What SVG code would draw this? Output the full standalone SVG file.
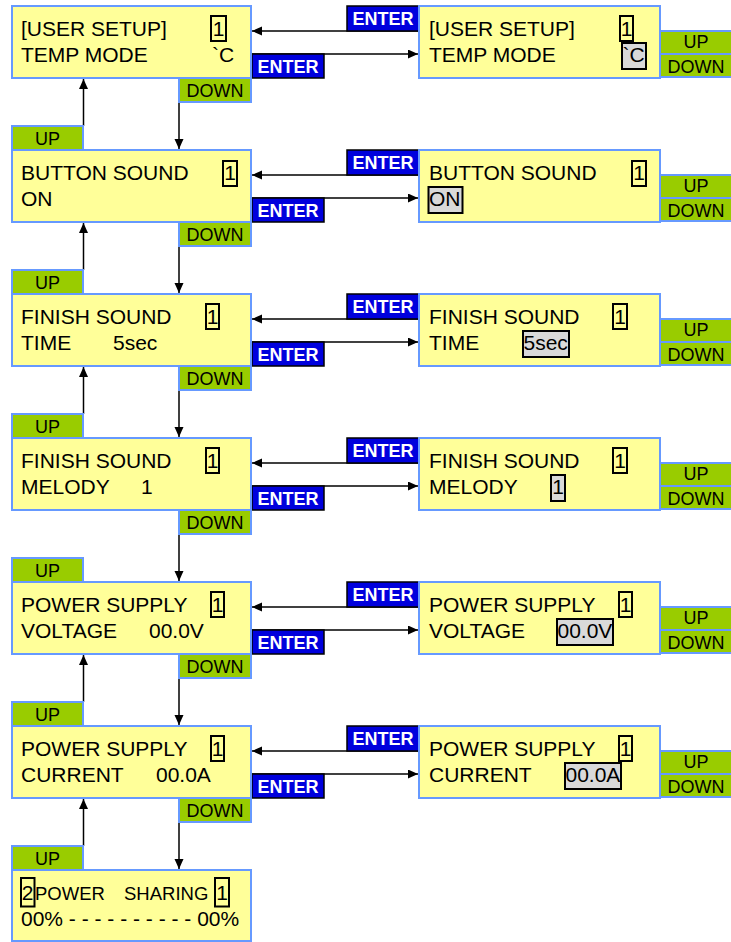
<svg xmlns="http://www.w3.org/2000/svg" width="731" height="942" viewBox="0 0 731 942">
<defs>
<style>
.box{fill:#ffff99;stroke:#6699ff;stroke-width:2}
.tab{fill:#99cc00;stroke:#6699ff;stroke-width:2}
.ent{fill:#0000dd;stroke:#000;stroke-width:1.5}
.t{font-family:"Liberation Sans",Arial,sans-serif;font-size:21px;fill:#000}
.s{font-family:"Liberation Sans",Arial,sans-serif;font-size:18.5px;fill:#000}
.m{text-anchor:middle}
.tt{font-family:"Liberation Sans",Arial,sans-serif;font-size:18px;fill:#000;text-anchor:middle}
.et{font-family:"Liberation Sans",Arial,sans-serif;font-size:18px;font-weight:bold;fill:#fff;text-anchor:middle}
.nb{fill:none;stroke:#000;stroke-width:2}
.hl{fill:#d9d9d9;stroke:#000;stroke-width:2}
.c{stroke:#000;stroke-width:1.5;fill:none;marker-end:url(#ah)}
</style>
<marker id="ah" markerUnits="userSpaceOnUse" markerWidth="11" markerHeight="10" refX="10" refY="4.5" orient="auto">
<path d="M0,0 L10,4.5 L0,9 z" fill="#000"/>
</marker>
</defs>
<rect width="731" height="942" fill="#fff"/>

<!-- connectors -->
<g id="connectors">
<line class="c" x1="419" y1="31" x2="252" y2="31"/>
<line class="c" x1="251" y1="54" x2="418" y2="54"/>
<line class="c" x1="419" y1="175" x2="252" y2="175"/>
<line class="c" x1="251" y1="198" x2="418" y2="198"/>
<line class="c" x1="419" y1="319" x2="252" y2="319"/>
<line class="c" x1="251" y1="342" x2="418" y2="342"/>
<line class="c" x1="419" y1="463" x2="252" y2="463"/>
<line class="c" x1="251" y1="486" x2="418" y2="486"/>
<line class="c" x1="419" y1="607" x2="252" y2="607"/>
<line class="c" x1="251" y1="630" x2="418" y2="630"/>
<line class="c" x1="419" y1="751" x2="252" y2="751"/>
<line class="c" x1="251" y1="774" x2="418" y2="774"/>
<line class="c" x1="179" y1="102" x2="179" y2="149"/>
<line class="c" x1="179" y1="246" x2="179" y2="293"/>
<line class="c" x1="179" y1="390" x2="179" y2="437"/>
<line class="c" x1="179" y1="534" x2="179" y2="581"/>
<line class="c" x1="179" y1="678" x2="179" y2="725"/>
<line class="c" x1="179" y1="822" x2="179" y2="869"/>
<line class="c" x1="83.5" y1="126" x2="83.5" y2="79"/>
<line class="c" x1="83.5" y1="270" x2="83.5" y2="223"/>
<line class="c" x1="83.5" y1="414" x2="83.5" y2="367"/>
<line class="c" x1="83.5" y1="702" x2="83.5" y2="655"/>
<line class="c" x1="83.5" y1="846" x2="83.5" y2="799"/>
</g>

<!-- ENTER labels -->
<g id="enter-labels">
<rect class="ent" x="347" y="6" width="72" height="25"/><text class="et" x="383" y="25">ENTER</text>
<rect class="ent" x="252" y="54" width="72" height="24"/><text class="et" x="288" y="73">ENTER</text>
<rect class="ent" x="347" y="150" width="72" height="25"/><text class="et" x="383" y="169">ENTER</text>
<rect class="ent" x="252" y="198" width="72" height="24"/><text class="et" x="288" y="217">ENTER</text>
<rect class="ent" x="347" y="294" width="72" height="25"/><text class="et" x="383" y="313">ENTER</text>
<rect class="ent" x="252" y="342" width="72" height="24"/><text class="et" x="288" y="361">ENTER</text>
<rect class="ent" x="347" y="438" width="72" height="25"/><text class="et" x="383" y="457">ENTER</text>
<rect class="ent" x="252" y="486" width="72" height="24"/><text class="et" x="288" y="505">ENTER</text>
<rect class="ent" x="347" y="582" width="72" height="25"/><text class="et" x="383" y="601">ENTER</text>
<rect class="ent" x="252" y="630" width="72" height="24"/><text class="et" x="288" y="649">ENTER</text>
<rect class="ent" x="347" y="726" width="72" height="25"/><text class="et" x="383" y="745">ENTER</text>
<rect class="ent" x="252" y="774" width="72" height="24"/><text class="et" x="288" y="793">ENTER</text>
</g>

<!-- left column tabs -->
<g id="left-tabs">
<rect class="tab" x="179" y="78" width="72" height="24"/><text class="tt" x="215" y="97">DOWN</text>
<rect class="tab" x="179" y="222" width="72" height="24"/><text class="tt" x="215" y="241">DOWN</text>
<rect class="tab" x="179" y="366" width="72" height="24"/><text class="tt" x="215" y="385">DOWN</text>
<rect class="tab" x="179" y="510" width="72" height="24"/><text class="tt" x="215" y="529">DOWN</text>
<rect class="tab" x="179" y="654" width="72" height="24"/><text class="tt" x="215" y="673">DOWN</text>
<rect class="tab" x="179" y="798" width="72" height="24"/><text class="tt" x="215" y="817">DOWN</text>
<rect class="tab" x="12" y="126" width="71" height="24"/><text class="tt" x="47.5" y="145">UP</text>
<rect class="tab" x="12" y="270" width="71" height="24"/><text class="tt" x="47.5" y="289">UP</text>
<rect class="tab" x="12" y="414" width="71" height="24"/><text class="tt" x="47.5" y="433">UP</text>
<rect class="tab" x="12" y="558" width="71" height="24"/><text class="tt" x="47.5" y="577">UP</text>
<rect class="tab" x="12" y="702" width="71" height="24"/><text class="tt" x="47.5" y="721">UP</text>
<rect class="tab" x="12" y="846" width="71" height="24"/><text class="tt" x="47.5" y="865">UP</text>
</g>

<!-- right column tabs -->
<g id="right-tabs">
<rect class="tab" x="660" y="31" width="72" height="23"/><text class="tt" x="696" y="48">UP</text>
<rect class="tab" x="660" y="54" width="72" height="23"/><text class="tt" x="696" y="73">DOWN</text>
<rect class="tab" x="660" y="175" width="72" height="23"/><text class="tt" x="696" y="192">UP</text>
<rect class="tab" x="660" y="198" width="72" height="23"/><text class="tt" x="696" y="217">DOWN</text>
<rect class="tab" x="660" y="319" width="72" height="23"/><text class="tt" x="696" y="336">UP</text>
<rect class="tab" x="660" y="342" width="72" height="23"/><text class="tt" x="696" y="361">DOWN</text>
<rect class="tab" x="660" y="463" width="72" height="23"/><text class="tt" x="696" y="480">UP</text>
<rect class="tab" x="660" y="486" width="72" height="23"/><text class="tt" x="696" y="505">DOWN</text>
<rect class="tab" x="660" y="607" width="72" height="23"/><text class="tt" x="696" y="624">UP</text>
<rect class="tab" x="660" y="630" width="72" height="23"/><text class="tt" x="696" y="649">DOWN</text>
<rect class="tab" x="660" y="751" width="72" height="23"/><text class="tt" x="696" y="768">UP</text>
<rect class="tab" x="660" y="774" width="72" height="23"/><text class="tt" x="696" y="793">DOWN</text>
</g>

<!-- left nodes -->
<g id="L0">
<rect class="box" x="12" y="6" width="239" height="72"/>
<text class="t" x="21" y="36">[USER SETUP]</text>
<rect class="nb" x="211" y="16" width="15" height="25"/><text class="t m" x="218.5" y="36">1</text>
<text class="t" x="21" y="62">TEMP MODE</text>
<text class="t" x="212" y="62">`C</text>
</g>
<g id="L1">
<rect class="box" x="12" y="150" width="239" height="72"/>
<text class="t" x="21" y="180">BUTTON SOUND</text>
<rect class="nb" x="223" y="161" width="14" height="25"/><text class="t m" x="230" y="180">1</text>
<text class="t" x="21" y="206">ON</text>
</g>
<g id="L2">
<rect class="box" x="12" y="294" width="239" height="72"/>
<text class="t" x="21" y="324">FINISH SOUND</text>
<rect class="nb" x="206" y="304" width="13" height="25"/><text class="t m" x="212.5" y="324">1</text>
<text class="t" x="21" y="350">TIME</text>
<text class="t" x="113" y="350">5sec</text>
</g>
<g id="L3">
<rect class="box" x="12" y="438" width="239" height="72"/>
<text class="t" x="21" y="468">FINISH SOUND</text>
<rect class="nb" x="206" y="448" width="13" height="25"/><text class="t m" x="212.5" y="468">1</text>
<text class="t" x="21" y="494">MELODY</text>
<text class="t" x="141" y="494">1</text>
</g>
<g id="L4">
<rect class="box" x="12" y="582" width="239" height="72"/>
<text class="t" x="21" y="612">POWER SUPPLY</text>
<rect class="nb" x="211" y="592" width="13" height="25"/><text class="t m" x="217.5" y="612">1</text>
<text class="t" x="21" y="638">VOLTAGE</text>
<text class="t" x="149" y="638">00.0V</text>
</g>
<g id="L5">
<rect class="box" x="12" y="726" width="239" height="72"/>
<text class="t" x="21" y="756">POWER SUPPLY</text>
<rect class="nb" x="211" y="736" width="13" height="25"/><text class="t m" x="217.5" y="756">1</text>
<text class="t" x="21" y="782">CURRENT</text>
<text class="t" x="156" y="782">00.0A</text>
</g>
<g id="L6">
<rect class="box" x="12" y="870" width="239" height="71"/>
<rect class="nb" x="21" y="878" width="13.5" height="28.5"/><text class="t m" x="27.7" y="900">2</text>
<text class="s" x="35" y="900">POWER</text>
<text class="s" x="124" y="900">SHARING</text>
<rect class="nb" x="215" y="878" width="14" height="28.5"/><text class="t m" x="222" y="900">1</text>
<text class="t" x="21" y="926">00% - - - - - - - - - - 00%</text>
</g>

<!-- right nodes -->
<g id="R0">
<rect class="box" x="419" y="6" width="241" height="72"/>
<text class="t" x="429" y="36">[USER SETUP]</text>
<rect class="nb" x="620" y="16" width="13" height="25"/><text class="t m" x="626.5" y="36">1</text>
<text class="t" x="429" y="62">TEMP MODE</text>
<rect class="hl" x="622" y="43" width="24" height="26"/>
<text class="t" x="622.5" y="62">`C</text>
</g>
<g id="R1">
<rect class="box" x="419" y="150" width="241" height="72"/>
<text class="t" x="429" y="180">BUTTON SOUND</text>
<rect class="nb" x="632" y="161" width="14" height="25"/><text class="t m" x="639" y="180">1</text>
<rect class="hl" x="428.5" y="187" width="34" height="26"/>
<text class="t" x="429" y="206">ON</text>
</g>
<g id="R2">
<rect class="box" x="419" y="294" width="241" height="72"/>
<text class="t" x="429" y="324">FINISH SOUND</text>
<rect class="nb" x="613" y="304" width="14" height="25"/><text class="t m" x="620" y="324">1</text>
<text class="t" x="429" y="350">TIME</text>
<rect class="hl" x="523" y="331" width="46" height="26"/>
<text class="t" x="523.5" y="350">5sec</text>
</g>
<g id="R3">
<rect class="box" x="419" y="438" width="241" height="72"/>
<text class="t" x="429" y="468">FINISH SOUND</text>
<rect class="nb" x="613" y="448" width="14" height="25"/><text class="t m" x="620" y="468">1</text>
<text class="t" x="429" y="494">MELODY</text>
<rect class="hl" x="551" y="475" width="14" height="26"/>
<text class="t m" x="558" y="494">1</text>
</g>
<g id="R4">
<rect class="box" x="419" y="582" width="241" height="72"/>
<text class="t" x="429" y="612">POWER SUPPLY</text>
<rect class="nb" x="619" y="592" width="13" height="25"/><text class="t m" x="625.5" y="612">1</text>
<text class="t" x="429" y="638">VOLTAGE</text>
<rect class="hl" x="557" y="619" width="56" height="26"/>
<text class="t" x="557.5" y="638">00.0V</text>
</g>
<g id="R5">
<rect class="box" x="419" y="726" width="241" height="72"/>
<text class="t" x="429" y="756">POWER SUPPLY</text>
<rect class="nb" x="619" y="736" width="13" height="25"/><text class="t m" x="625.5" y="756">1</text>
<text class="t" x="429" y="782">CURRENT</text>
<rect class="hl" x="565" y="763" width="56" height="26"/>
<text class="t" x="565.5" y="782">00.0A</text>
</g>
</svg>
